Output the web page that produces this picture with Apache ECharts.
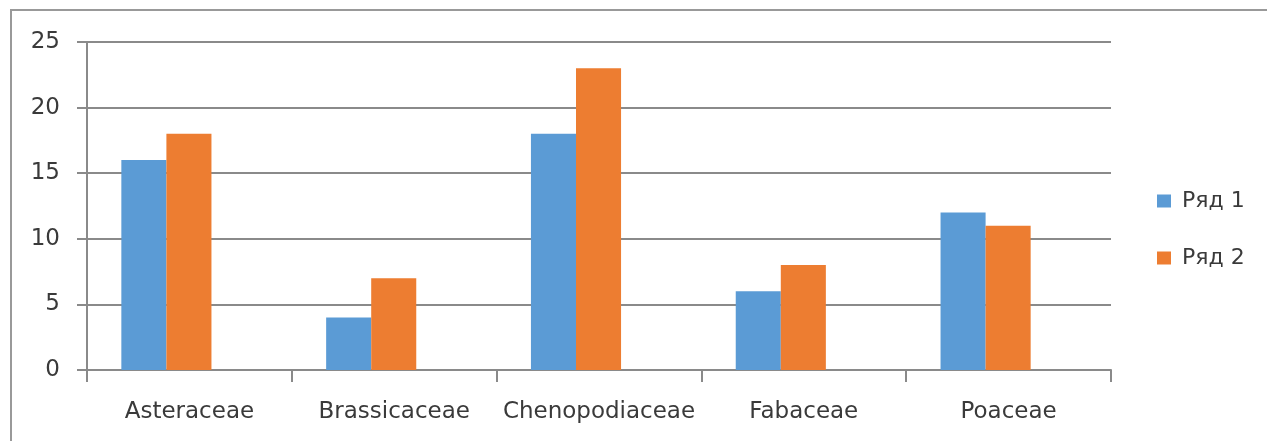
<!DOCTYPE html>
<html>
<head>
<meta charset="utf-8">
<script src="https://cdn.jsdelivr.net/npm/echarts@6/dist/echarts.min.js"></script>
<style>
  html, body { margin: 0; padding: 0; background: #fff; }
  #chart { width: 1267px; height: 441px; }
</style>
</head>
<body>
<div id="chart"></div>
<script>
// Plant families and the two series counted for each
const categories = ['Asteraceae', 'Brassicaceae', 'Chenopodiaceae', 'Fabaceae', 'Poaceae'];
const series1 = [16, 4, 18, 6, 12];
const series2 = [18, 7, 23, 8, 11];
const seriesNames = ['Ряд 1', 'Ряд 2'];
const yTicks = [0, 5, 10, 15, 20, 25];

const gridColor = '#8a8a8a';
const textColor = '#3a3a3a';
const fontFamily = '"DejaVu Sans", "Noto Sans", sans-serif';

// Plot box shared by both grids; the bar grid sits slightly to the left of the axis grid
const plotTop = 42, plotBottom = 71, plotLeft = 87, plotRight = 156;
const barShift = 23;

const chart = echarts.init(document.getElementById('chart'), null, { renderer: 'canvas' });

chart.setOption({
  animation: false,
  backgroundColor: '#fff',
  graphic: [{
    type: 'rect',
    shape: { x: 11, y: 10, width: 1300, height: 500 },
    style: { fill: 'none', stroke: '#999', lineWidth: 2 },
    silent: true
  }],
  grid: [
    { left: plotLeft, top: plotTop, right: plotRight, bottom: plotBottom, containLabel: false },
    { left: plotLeft - barShift, top: plotTop, right: plotRight + barShift, bottom: plotBottom, containLabel: false }
  ],
  legend: {
    orient: 'vertical',
    left: 1157,
    top: 190,
    padding: 0,
    itemWidth: 14,
    itemHeight: 13,
    itemGap: 35,
    icon: 'rect',
    textStyle: { fontFamily, fontSize: 22, color: textColor, padding: [0, 0, 0, 6] },
    data: seriesNames
  },
  xAxis: [
    {
      type: 'category',
      gridIndex: 0,
      data: categories,
      axisLine: { show: true, lineStyle: { color: gridColor, width: 2 } },
      axisTick: { show: true, length: 12, lineStyle: { color: gridColor, width: 2 } },
      axisLabel: { interval: 0, fontFamily, fontSize: 23, color: textColor, margin: 31 }
    },
    {
      type: 'category',
      gridIndex: 1,
      data: categories,
      show: false
    }
  ],
  yAxis: [
    {
      type: 'value',
      gridIndex: 0,
      min: yTicks[0],
      max: yTicks[yTicks.length - 1],
      interval: 5,
      axisLine: { show: true, lineStyle: { color: gridColor, width: 2 } },
      axisTick: { show: true, length: 10, lineStyle: { color: gridColor, width: 2 } },
      splitLine: { show: true, lineStyle: { color: gridColor, width: 2 } },
      axisLabel: { fontFamily, fontSize: 23, color: textColor, margin: 27 }
    },
    {
      type: 'value',
      gridIndex: 1,
      min: yTicks[0],
      max: yTicks[yTicks.length - 1],
      interval: 5,
      show: false,
      splitLine: { show: false }
    }
  ],
  series: [
    {
      name: seriesNames[0],
      type: 'bar',
      xAxisIndex: 1,
      yAxisIndex: 1,
      data: series1,
      barGap: '0%',
      barCategoryGap: '56%',
      itemStyle: { color: '#5B9BD5' }
    },
    {
      name: seriesNames[1],
      type: 'bar',
      xAxisIndex: 1,
      yAxisIndex: 1,
      data: series2,
      barGap: '0%',
      barCategoryGap: '56%',
      itemStyle: { color: '#ED7D31' }
    }
  ]
});
</script>
</body>
</html>
